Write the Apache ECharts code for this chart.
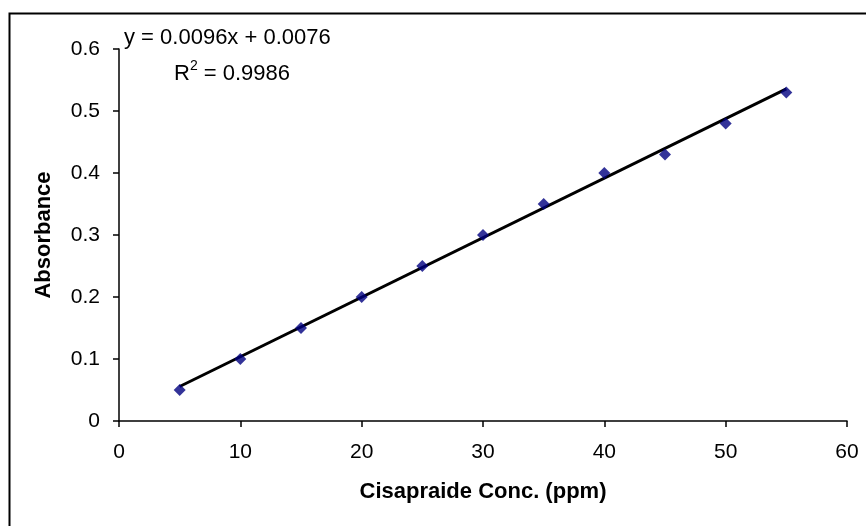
<!DOCTYPE html>
<html><head><meta charset="utf-8">
<script src="https://cdn.jsdelivr.net/npm/echarts@6/dist/echarts.min.js"></script>
<style>html,body{margin:0;padding:0;background:#fff}#c{width:866px;height:526px}</style>
</head><body><div id="c"></div>
<script>
const concX = [5, 10, 15, 20, 25, 30, 35, 40, 45, 50, 55];
const absorbance = [0.05, 0.10, 0.15, 0.20, 0.25, 0.30, 0.35, 0.40, 0.43, 0.48, 0.53];
const trendX = [5, 55];
const trendY = [0.0556, 0.5356];
const eqText = 'y = 0.0096x + 0.0076';
const r2Value = '0.9986';

const chart = echarts.init(document.getElementById('c'));
const font = 'Liberation Sans, Arial, sans-serif';
chart.setOption({
  animation: false,
  backgroundColor: '#fff',
  grid: {left: 119, right: 19, top: 49, bottom: 105},
  xAxis: {
    type: 'value', min: 0, max: 60, interval: 10,
    name: 'Cisapraide Conc. (ppm)', nameLocation: 'middle', nameGap: 60,
    nameTextStyle: {fontFamily: font, fontSize: 22, fontWeight: 'bold', color: '#000'},
    axisLine: {show: true, lineStyle: {color: '#000', width: 1.5}},
    axisTick: {show: true, inside: false, length: 6, lineStyle: {color: '#000', width: 1.5}},
    axisLabel: {fontFamily: font, fontSize: 21, color: '#000', margin: 21},
    splitLine: {show: false}
  },
  yAxis: {
    type: 'value', min: 0, max: 0.6, interval: 0.1,
    name: 'Absorbance', nameLocation: 'middle', nameGap: 64, nameRotate: 90,
    nameTextStyle: {fontFamily: font, fontSize: 22, fontWeight: 'bold', color: '#000'},
    axisLine: {show: true, onZero: false, lineStyle: {color: '#000', width: 1.5}},
    axisTick: {show: true, inside: false, length: 6, lineStyle: {color: '#000', width: 1.5}},
    axisLabel: {fontFamily: font, fontSize: 21, color: '#000', margin: 19,
      formatter: v => (Math.round(v*10)/10).toString()},
    splitLine: {show: false}
  },
  graphic: [
    {type: 'rect', left: 7, top: 11, shape: {width: 880, height: 540},
     style: {fill: 'none', stroke: '#000', lineWidth: 2}, silent: true},
    {type: 'text', left: 124, top: 27, style: {text: eqText, font: '22px ' + font, fill: '#000'}},
    {type: 'text', left: 174, top: 59, style: {
      text: '{n|R}{s|2}{n| = ' + r2Value + '}',
      rich: {n: {fontFamily: font, fontSize: 22, color: '#000', verticalAlign: 'bottom', lineHeight: 26},
             s: {fontFamily: font, fontSize: 14, color: '#000', verticalAlign: 'top', lineHeight: 26}}
    }}
  ],
  series: [
    {type: 'line', data: trendX.map((x, i) => [x, trendY[i]]), showSymbol: false, symbol: 'none',
     lineStyle: {color: '#000', width: 3}, z: 2},
    {type: 'scatter', data: concX.map((x, i) => [x, absorbance[i]]), symbol: 'diamond',
     symbolSize: [12, 12], itemStyle: {color: '#000080'}, z: 3}
  ]
});
</script></body></html>
